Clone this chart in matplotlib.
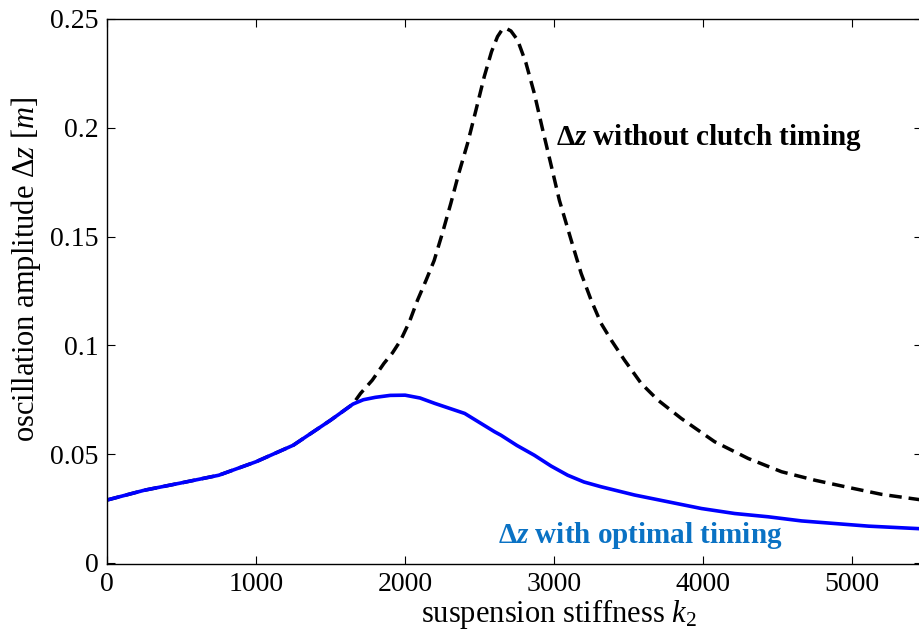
import matplotlib
matplotlib.use('Agg')
import matplotlib.pyplot as plt

plt.rcParams['font.family'] = ['Liberation Serif', 'DejaVu Serif']
plt.rcParams['mathtext.fontset'] = 'custom'
plt.rcParams['mathtext.rm'] = 'Liberation Serif'
plt.rcParams['mathtext.it'] = 'Liberation Serif:italic'
plt.rcParams['mathtext.bf'] = 'Liberation Serif:bold'
plt.rcParams['mathtext.bfit'] = 'Liberation Serif:italic:bold'

# optimal clutch timing (blue)
k_opt = [0, 250, 500, 750, 1000, 1250, 1500, 1650, 1720, 1800, 1900, 2000, 2100,
         2200, 2400, 2600, 2643, 2750, 2867, 2980, 3091, 3200, 3315, 3540, 3764,
         3988, 4212, 4436, 4660, 4884, 5109, 5460]
dz_opt = [0.0289, 0.0334, 0.0368, 0.0403, 0.0465, 0.0541, 0.0656, 0.0730, 0.0750,
          0.0761, 0.0770, 0.0771, 0.0758, 0.0733, 0.0687, 0.0603, 0.0587, 0.0540,
          0.0495, 0.0445, 0.0403, 0.0372, 0.0350, 0.0312, 0.0281, 0.0250, 0.0227,
          0.0212, 0.0193, 0.0181, 0.0169, 0.0157]

# no clutch timing (black dashed)
k_none = [0, 250, 500, 750, 1000, 1250, 1500, 1650, 1701, 1780, 1858, 1915, 1970,
          2030, 2083, 2140, 2195, 2250, 2307, 2360, 2419, 2475, 2531, 2580, 2620,
          2650, 2677, 2710, 2755, 2810, 2867, 2920, 2979, 3035, 3114, 3181, 3248,
          3315, 3383, 3472, 3584, 3697, 3853, 4077, 4302, 4526, 4750, 4974, 5198,
          5460]
dz_none = [0.0289, 0.0334, 0.0368, 0.0403, 0.0465, 0.0541, 0.0656, 0.0730, 0.0779,
           0.0840, 0.0917, 0.0965, 0.1023, 0.1110, 0.1207, 0.1298, 0.1390, 0.1515,
           0.1653, 0.1790, 0.1928, 0.2080, 0.2235, 0.2350, 0.2419, 0.2450, 0.2457,
           0.2445, 0.2403, 0.2300, 0.2158, 0.2000, 0.1830, 0.1667, 0.1484, 0.1331,
           0.1208, 0.1101, 0.1024, 0.0932, 0.0825, 0.0748, 0.0664, 0.0557, 0.0480,
           0.0419, 0.0380, 0.0347, 0.0315, 0.0290]

xticks = [0, 1000, 2000, 3000, 4000, 5000]
yticks = [0, 0.05, 0.1, 0.15, 0.2, 0.25]
yticklabels = ['0', '0.05', '0.1', '0.15', '0.2', '0.25']

fig = plt.figure(figsize=(9.2, 6.33), dpi=100)
ax = fig.add_axes([107 / 920, 1 - 564 / 633, 1 - 107 / 920 + 0.002, (564 - 19) / 633])

ax.plot(k_none, dz_none, color='black', lw=2.5, linestyle=(0, (3.6, 2.0)))
ax.plot(k_opt, dz_opt, color='#0000ff', lw=2.6)

ax.set_xlim(0, 5467)
ax.set_ylim(-0.0005, 0.25)
ax.set_xticks(xticks)
ax.set_yticks(yticks)
ax.set_yticklabels(yticklabels)
ax.tick_params(direction='in', top=True, right=True, length=6, width=0.8,
               labelsize=20, pad=6)
for s in ax.spines.values():
    s.set_linewidth(1.0)

ax.set_xlabel(r'suspension stiffness $\mathit{k}_{\mathit{2}}$', fontsize=22)
ax.set_ylabel(r'oscillation amplitude $\Delta\mathit{z\ [m]}$', fontsize=22)
ax.xaxis.set_label_coords(0.555, -0.061, transform=ax.transAxes)
ax.yaxis.set_label_coords(-0.079, 0.54, transform=ax.transAxes)

ax.text(3013, 0.1957, r'$\mathbf{\Delta}\mathbfit{z}$ without clutch timing',
        fontsize=21, fontweight='bold', color='black', va='center', ha='left')
ax.text(2623, 0.0128, r'$\mathbf{\Delta}\mathbfit{z}$ with optimal timing',
        fontsize=21, fontweight='bold', color='#0a72c4', va='center', ha='left')

fig.savefig('out.png', dpi=100)
